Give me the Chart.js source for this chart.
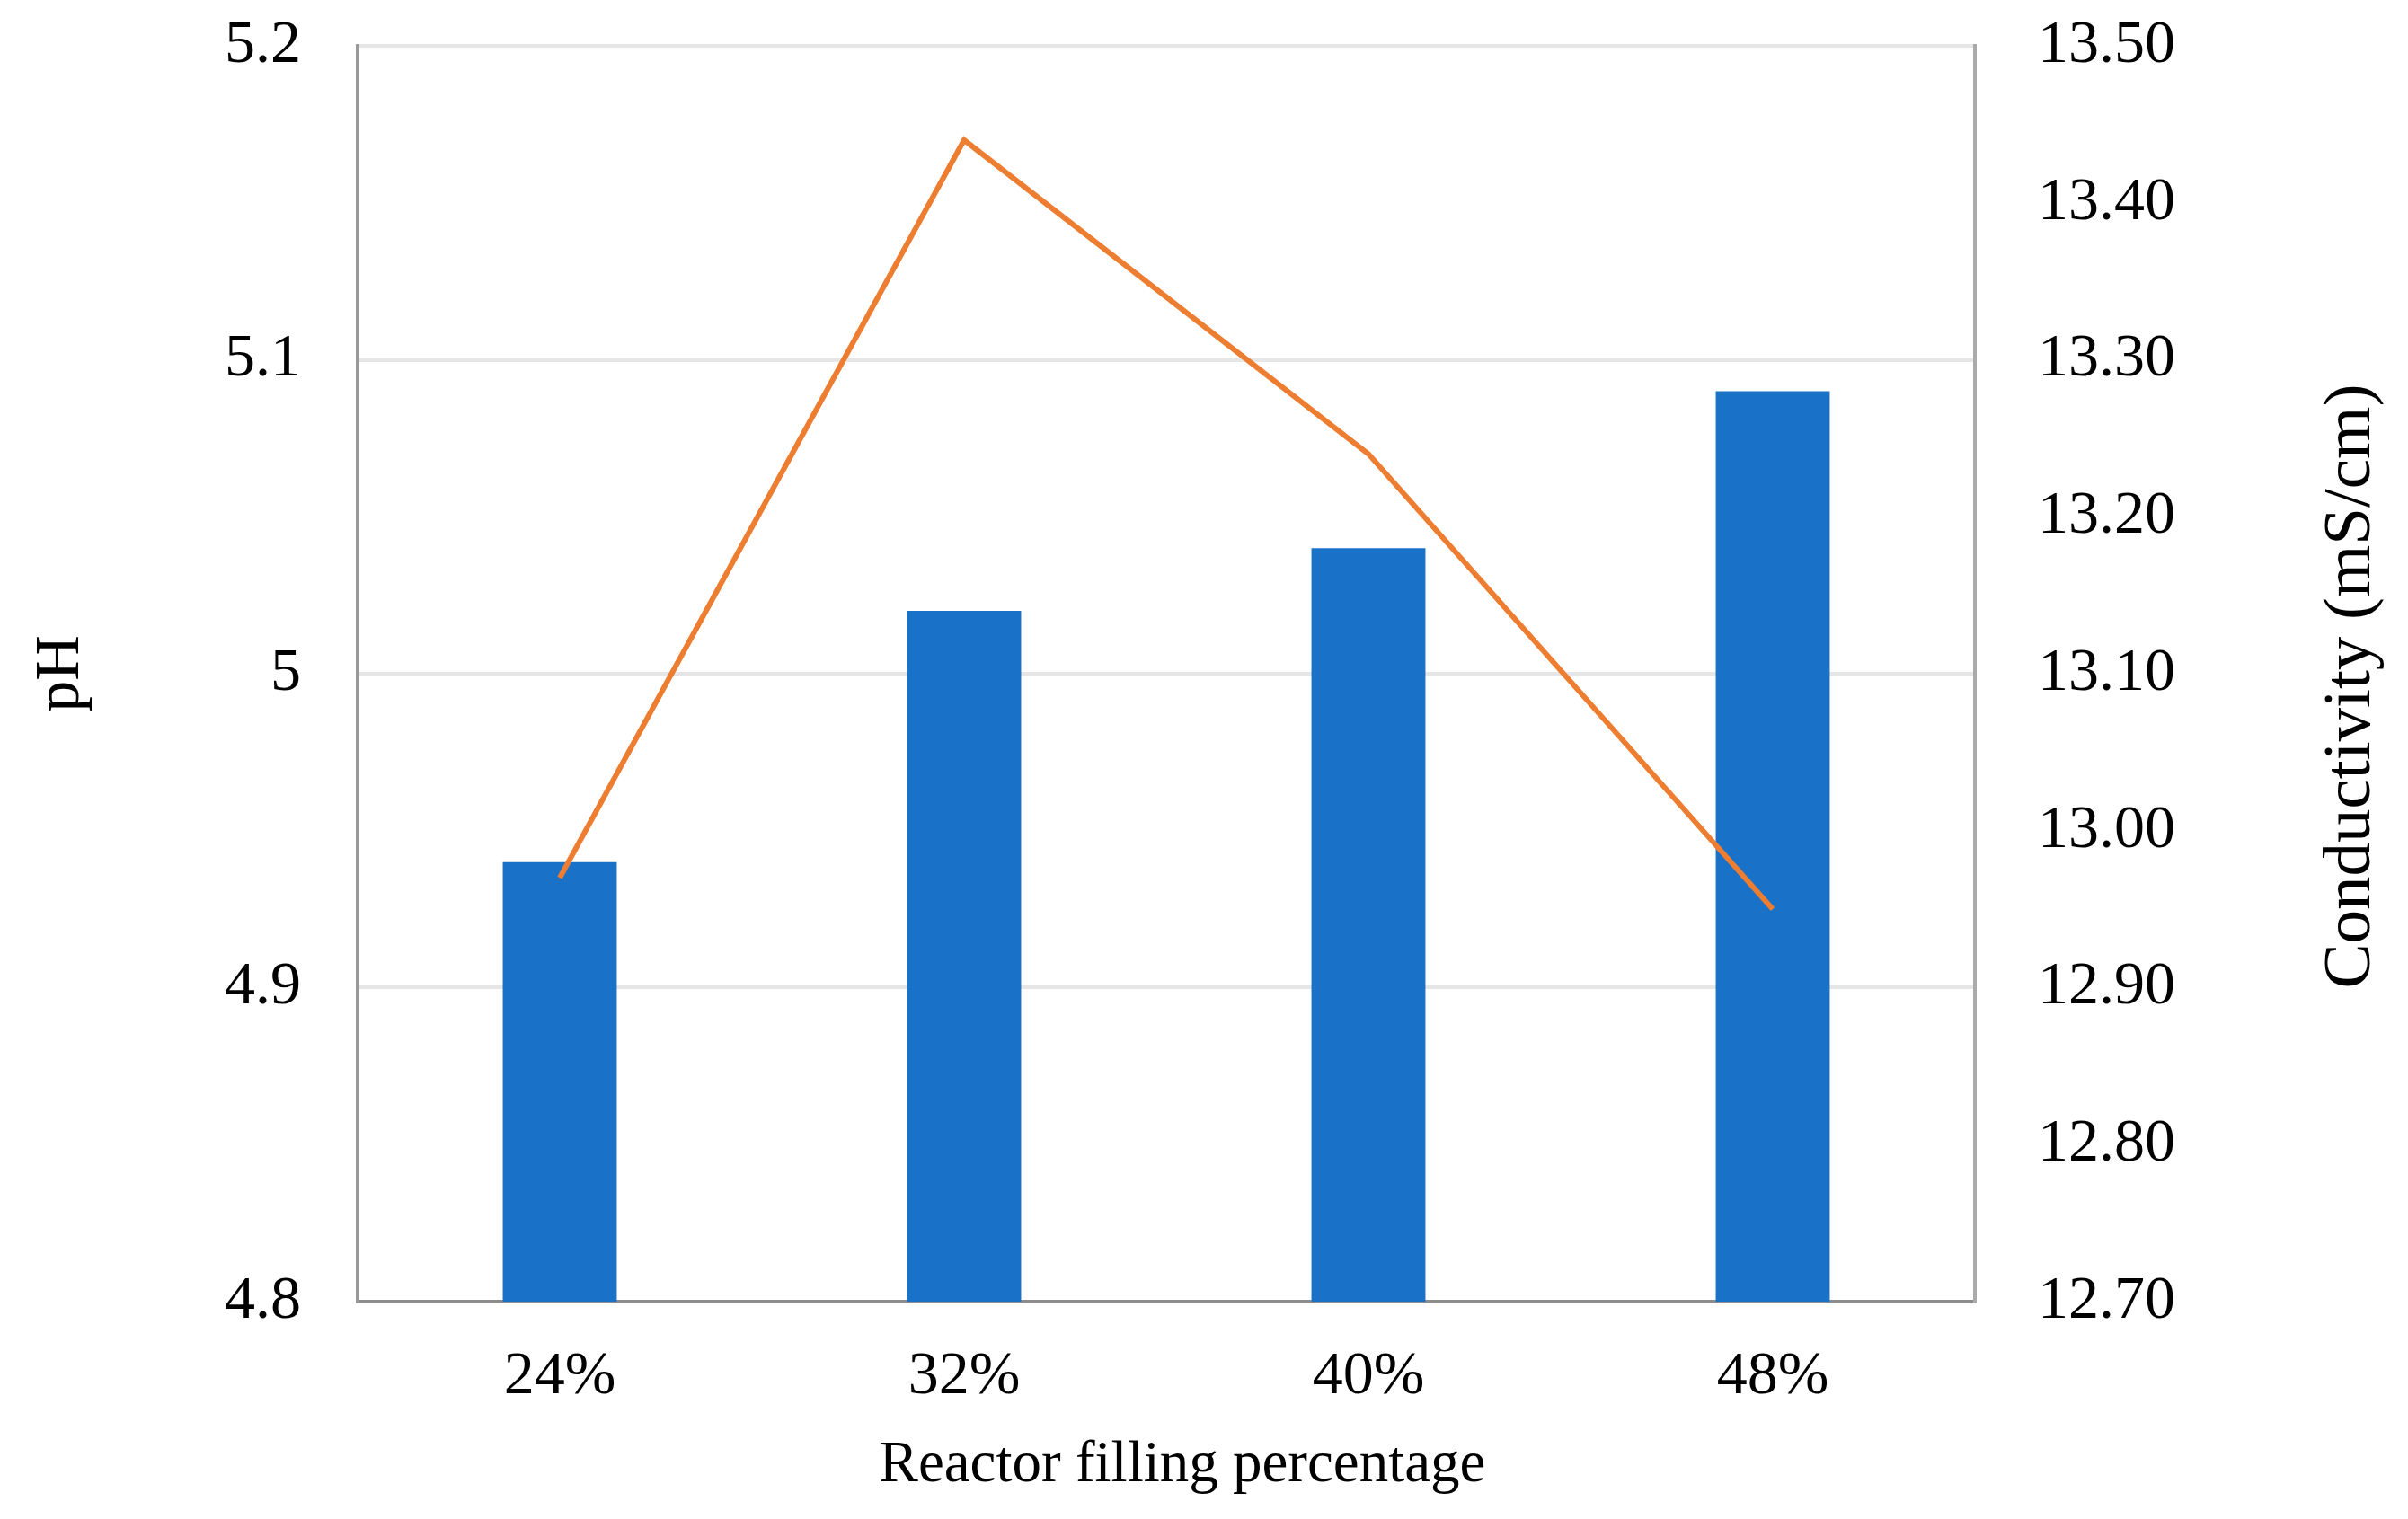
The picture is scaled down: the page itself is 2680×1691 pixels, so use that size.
<!DOCTYPE html>
<html>
<head>
<meta charset="utf-8">
<script src="https://cdn.jsdelivr.net/npm/chart.js@4.4.1/dist/chart.umd.min.js"></script>
<style>
    body { margin: 0; background: #fff; }
    .chart-box { width: 2680px; height: 1691px; }
</style>
</head>
<body>
<div class="chart-box">
    <canvas id="myChart" width="2680" height="1691"></canvas>
</div>
<script>
    // data
    const fillLabels = ['24%', '32%', '40%', '48%'];
    const phValues = [4.94, 5.02, 5.04, 5.09];
    const conductivityValues = [12.97, 13.44, 13.24, 12.95];
    const phTicks = ['4.8', '4.9', '5', '5.1', '5.2'];
    const condTicks = ['12.70', '12.80', '12.90', '13.00', '13.10', '13.20', '13.30', '13.40', '13.50'];

    const serif = 'Liberation Serif, Times New Roman, serif';

    // axis titles drawn by hand: the right one reads bottom-to-top,
    // and the bottom one sits a bit right of the plot centre
    const axisTitles = {
        id: 'axisTitles',
        afterDraw(chart) {
            const ctx = chart.ctx;
            const area = chart.chartArea;
            ctx.save();
            ctx.fillStyle = '#000';
            ctx.textAlign = 'center';
            ctx.textBaseline = 'middle';

            ctx.font = '65px ' + serif;
            ctx.fillText('Reactor filling percentage', 1316, 1632);

            ctx.translate(2617, (area.top + area.bottom) / 2 + 14);
            ctx.rotate(-Math.PI / 2);
            ctx.font = '75px ' + serif;
            ctx.fillText('Conductivity (mS/cm)', 0, 0);
            ctx.restore();
        }
    };

    new Chart(document.getElementById('myChart'), {
        data: {
            labels: fillLabels,
            datasets: [{
                type: 'line',
                label: 'Conductivity',
                data: conductivityValues,
                yAxisID: 'y1',
                borderColor: '#ED7D31',
                borderWidth: 6,
                pointRadius: 0,
                tension: 0,
                order: 1
            }, {
                type: 'bar',
                label: 'pH',
                data: phValues,
                yAxisID: 'y',
                backgroundColor: '#1A72C8',
                barPercentage: 0.282,
                categoryPercentage: 1,
                order: 2
            }]
        },
        options: {
            responsive: false,
            devicePixelRatio: 1,
            animation: false,
            layout: { padding: { top: 51, left: 0, right: 0, bottom: 0 } },
            plugins: {
                legend: { display: false },
                tooltip: { enabled: false }
            },
            scales: {
                x: {
                    grid: { display: false, drawTicks: false },
                    border: { display: true, color: '#8c8c8c', width: 4 },
                    ticks: { color: '#000', font: { family: serif, size: 68 }, padding: 43 },
                    afterFit(scale) { scale.height = 242; }
                },
                y: {
                    position: 'left',
                    min: 4.8,
                    max: 5.2,
                    grid: { color: '#e6e6e6', lineWidth: 4, drawTicks: false },
                    border: { display: true, color: '#999', width: 4 },
                    ticks: {
                        stepSize: 0.1,
                        color: '#000',
                        font: { family: serif, size: 68 },
                        padding: 63,
                        callback: (v, i) => phTicks[i]
                    },
                    title: {
                        display: true,
                        text: 'pH',
                        color: '#000',
                        font: { family: serif, size: 70 },
                        padding: { top: 27, bottom: 0 }
                    },
                    afterFit(scale) {
                        scale.width = 398;
                        scale.paddingTop = 0;
                        scale.paddingBottom = 0;
                    }
                },
                y1: {
                    position: 'right',
                    min: 12.7,
                    max: 13.5,
                    grid: { display: false, drawTicks: false },
                    border: { display: true, color: '#aaa', width: 4 },
                    ticks: {
                        stepSize: 0.1,
                        color: '#000',
                        font: { family: serif, size: 68 },
                        padding: 70,
                        callback: (v, i) => condTicks[i]
                    },
                    afterFit(scale) {
                        scale.width = 482;
                        scale.paddingTop = 0;
                        scale.paddingBottom = 0;
                    }
                }
            }
        },
        plugins: [axisTitles]
    });
</script>
</body>
</html>
